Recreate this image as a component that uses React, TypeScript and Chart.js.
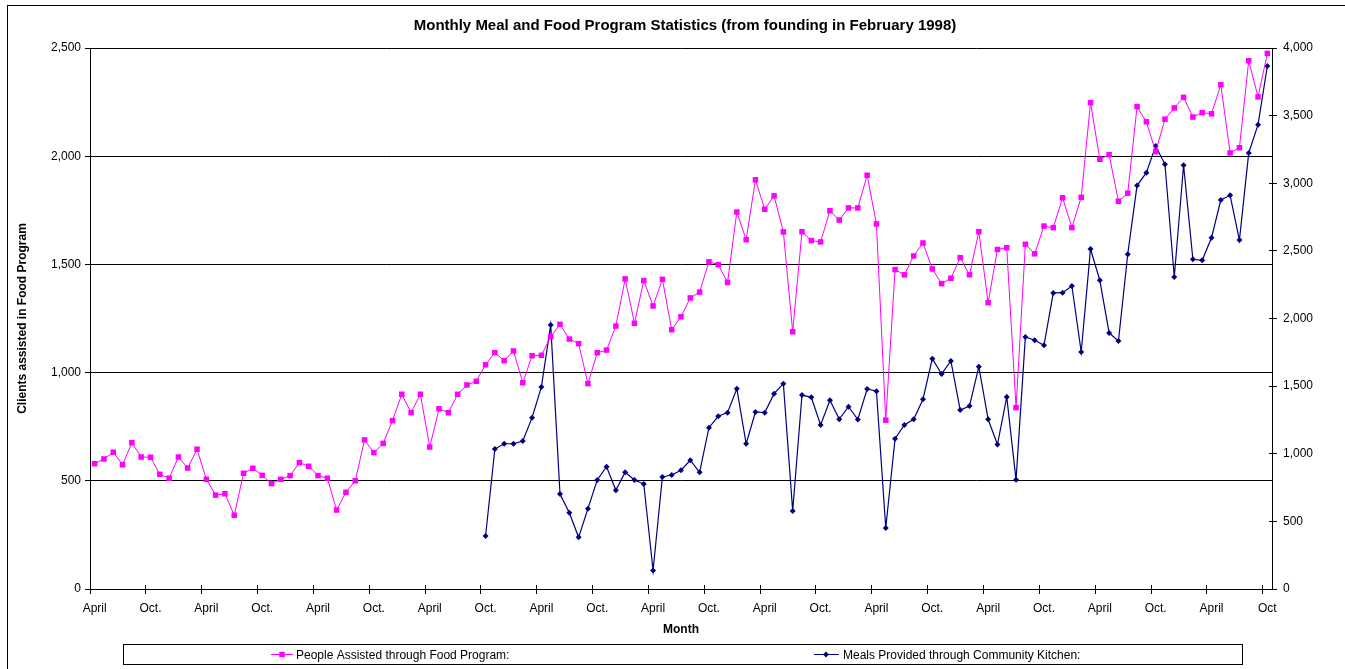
import React, { useEffect, useRef } from 'react';
import { Chart, registerables } from 'chart.js';

Chart.register(...registerables);

const TITLE = 'Monthly Meal and Food Program Statistics (from founding in February 1998)';
const LEFT_TITLE = 'Clients assisted in Food Program';
const RIGHT_TITLE = 'Meals Provided through Community Kitchen';
const X_TITLE = 'Month';
const PEOPLE_LABEL = 'People Assisted through Food Program:';
const MEALS_LABEL = 'Meals Provided through Community Kitchen:';

// Calendar months from April 1998 to October 2008 (127 months)
const MONTH_NAMES = ['Jan', 'Feb', 'Mar', 'Apr', 'May', 'Jun', 'Jul', 'Aug', 'Sep', 'Oct', 'Nov', 'Dec'];
const FIRST_YEAR = 1998;
const FIRST_MONTH = 3;
const MONTH_COUNT = 127;
const CATEGORIES: string[] = [];
for (let i = 0; i < MONTH_COUNT; i++) {
  const m = FIRST_MONTH + i;
  CATEGORIES.push(`${MONTH_NAMES[m % 12]} ${FIRST_YEAR + Math.floor(m / 12)}`);
}

const TICK_EVERY = 6;
const TICK_LABELS = [
  'April', 'Oct.', 'April', 'Oct.', 'April', 'Oct.', 'April', 'Oct.', 'April', 'Oct.', 'April',
  'Oct.', 'April', 'Oct.', 'April', 'Oct.', 'April', 'Oct.', 'April', 'Oct.', 'April', 'Oct',
];

const PEOPLE = [
  579, 601, 632, 574, 676, 610, 609, 530, 512, 610, 559, 646,
  507, 434, 440, 341, 535, 558, 525, 487, 507, 524, 584, 567,
  524, 512, 365, 447, 500, 689, 630, 673, 778, 900, 815, 900,
  656, 833, 815, 900, 943, 960, 1036, 1092, 1055, 1100, 953, 1078,
  1080, 1166, 1223, 1155, 1134, 949, 1092, 1104, 1215, 1433, 1228, 1425,
  1308, 1431, 1198, 1258, 1345, 1372, 1512, 1499, 1417, 1742, 1614, 1891,
  1755, 1817, 1650, 1189, 1651, 1610, 1604, 1748, 1705, 1761, 1761, 1912,
  1687, 780, 1476, 1452, 1539, 1599, 1479, 1411, 1436, 1531, 1452, 1651,
  1323, 1569, 1577, 838, 1593, 1549, 1677, 1670, 1808, 1670, 1810, 2247,
  1986, 2007, 1792, 1829, 2229, 2159, 2021, 2171, 2223, 2272, 2181, 2201,
  2196, 2330, 2015, 2039, 2441, 2274, 2475,
];

const MEALS_START_INDEX = 42;
const MEALS_VALUES = [
  392, 1035, 1074, 1074, 1094, 1267, 1494, 1952, 702, 564, 382, 594,
  806, 904, 730, 863, 806, 776, 137, 828, 843, 878, 952, 863,
  1193, 1277, 1304, 1481, 1074, 1309, 1304, 1444, 1518, 577, 1434, 1417,
  1213, 1396, 1256, 1348, 1253, 1479, 1462, 451, 1111, 1213, 1255, 1403,
  1703, 1590, 1686, 1323, 1353, 1644, 1255, 1068, 1420, 807, 1864, 1839,
  1802, 2189, 2191, 2240, 1752, 2514, 2282, 1893, 1834, 2475, 2983, 3078,
  3275, 3140, 2307, 3133, 2438, 2430, 2597, 2876, 2911, 2580, 3224, 3433,
  3867,
];
const MEALS: (number | null)[] = [
  ...new Array(MEALS_START_INDEX).fill(null),
  ...MEALS_VALUES,
];

const PINK = '#FF00FF';
const NAVY = '#000080';
const FONT = 'Arial, "Liberation Sans", sans-serif';

const CANVAS_W = 1370;
const CANVAS_H = 669;

const framePlugin = {
  id: 'frame',
  beforeDraw(chart: any) {
    const ctx = chart.ctx;
    ctx.save();
    ctx.fillStyle = '#fff';
    ctx.fillRect(0, 0, chart.width, chart.height);
    ctx.restore();
  },
  afterDraw(chart: any) {
    const { ctx, chartArea } = chart;
    ctx.save();
    ctx.strokeStyle = '#000';
    ctx.lineWidth = 1;
    // outer frame
    ctx.strokeRect(7.5, 5.5, 1500, 800);

    // inner half of the crossing category tick marks
    const w = (chartArea.right - chartArea.left) / CATEGORIES.length;
    ctx.beginPath();
    for (let i = 0; i < CATEGORIES.length; i += TICK_EVERY) {
      const x = Math.round(chartArea.left + i * w - 0.5) + 0.5;
      ctx.moveTo(x, chartArea.bottom - 4);
      ctx.lineTo(x, chartArea.bottom);
    }
    // inner half of right-axis ticks
    const y1 = chart.scales.y1;
    y1.ticks.forEach((t: any) => {
      const y = Math.round(y1.getPixelForValue(t.value) - 0.5) + 0.5;
      ctx.moveTo(chartArea.right - 3, y);
      ctx.lineTo(chartArea.right, y);
    });
    ctx.stroke();

    // legend box
    const lx = 123.5, ly = 644.5, lw = 1119, lh = 20;
    ctx.strokeRect(lx, ly, lw, lh);
    const cy = ly + lh / 2;
    ctx.font = `12px ${FONT}`;
    ctx.textBaseline = 'middle';
    ctx.textAlign = 'left';

    // pink entry
    ctx.strokeStyle = PINK;
    ctx.beginPath();
    ctx.moveTo(271, cy);
    ctx.lineTo(293, cy);
    ctx.stroke();
    ctx.fillStyle = PINK;
    ctx.fillRect(282 - 2.75, cy - 2.75, 5.5, 5.5);
    ctx.fillStyle = '#000';
    ctx.fillText(PEOPLE_LABEL, 296, cy + 1);

    // navy entry
    ctx.strokeStyle = NAVY;
    ctx.beginPath();
    ctx.moveTo(814, cy);
    ctx.lineTo(839, cy);
    ctx.stroke();
    ctx.fillStyle = NAVY;
    ctx.beginPath();
    ctx.moveTo(826 - 3, cy);
    ctx.lineTo(826, cy - 3);
    ctx.lineTo(826 + 3, cy);
    ctx.lineTo(826, cy + 3);
    ctx.closePath();
    ctx.fill();
    ctx.fillStyle = '#000';
    ctx.fillText(MEALS_LABEL, 843, cy + 1);
    ctx.restore();
  },
};

export default function App() {
  const ref = useRef<HTMLCanvasElement>(null);

  useEffect(() => {
    const canvas = ref.current;
    if (!canvas) return;
    const tickFont = { family: FONT, size: 12 };
    const titleFont = { family: FONT, size: 12, weight: 'bold' as const };

    const chart = new Chart(canvas, {
      type: 'line',
      data: {
        labels: CATEGORIES,
        datasets: [
          {
            label: PEOPLE_LABEL,
            data: PEOPLE,
            yAxisID: 'y',
            borderColor: PINK,
            backgroundColor: PINK,
            borderWidth: 1,
            pointStyle: 'rect',
            pointRadius: 3.9,
            pointHoverRadius: 3.9,
            pointBorderWidth: 0,
            pointBackgroundColor: PINK,
            tension: 0,
            fill: false,
          },
          {
            label: MEALS_LABEL,
            data: MEALS,
            yAxisID: 'y1',
            borderColor: NAVY,
            backgroundColor: NAVY,
            borderWidth: 1.2,
            pointStyle: 'rectRot',
            pointRadius: 3,
            pointHoverRadius: 3,
            pointBorderWidth: 0,
            pointBackgroundColor: NAVY,
            tension: 0,
            fill: false,
            spanGaps: false,
          },
        ],
      },
      options: {
        responsive: false,
        animation: false,
        devicePixelRatio: 1,
        layout: { padding: 0 },
        plugins: {
          legend: { display: false },
          tooltip: { enabled: false },
          title: {
            display: true,
            text: TITLE,
            color: '#000',
            font: { family: FONT, size: 15, weight: 'bold' },
            padding: { top: 17, bottom: 13 },
          },
        },
        scales: {
          x: {
            type: 'category',
            offset: true,
            grid: {
              offset: true,
              drawOnChartArea: false,
              tickLength: 5,
              color: (c: any) => (c.index % TICK_EVERY === 0 ? '#000' : 'rgba(0,0,0,0)'),
            },
            border: { display: true, color: '#000' },
            ticks: {
              autoSkip: false,
              maxRotation: 0,
              minRotation: 0,
              padding: 7,
              color: '#000',
              font: tickFont,
              callback: (_v: any, i: number) => (i % TICK_EVERY === 0 ? TICK_LABELS[i / TICK_EVERY] : ''),
            },
            title: {
              display: true,
              text: X_TITLE,
              color: '#000',
              font: titleFont,
              padding: { top: 0, bottom: 32 },
            },
            afterFit: (s: any) => {
              s.height = 80;
            },
          },
          y: {
            type: 'linear',
            position: 'left',
            min: 0,
            max: 2500,
            ticks: { stepSize: 500, padding: 4, color: '#000', font: tickFont },
            grid: { color: '#000', tickLength: 5, lineWidth: 1 },
            border: { display: true, color: '#000' },
            title: {
              display: true,
              text: LEFT_TITLE,
              color: '#000',
              font: titleFont,
              padding: { top: 15, bottom: 0 },
            },
            afterFit: (s: any) => {
              s.width = 90;
            },
          },
          y1: {
            type: 'linear',
            position: 'right',
            min: 0,
            max: 4000,
            ticks: { stepSize: 500, padding: 6, color: '#000', font: tickFont },
            grid: { drawOnChartArea: false, color: '#000', tickLength: 5 },
            border: { display: true, color: '#000' },
            title: {
              display: true,
              text: RIGHT_TITLE,
              color: '#000',
              font: titleFont,
              padding: { top: 11, bottom: 0 },
            },
            afterFit: (s: any) => {
              s.width = CANVAS_W - 1272;
            },
          },
        },
      },
      plugins: [framePlugin],
    });
    return () => chart.destroy();
  }, []);

  return (
    <div
      style={{
        position: 'fixed',
        left: 0,
        top: 0,
        width: 1345,
        height: 669,
        overflow: 'hidden',
        background: '#fff',
      }}
    >
      <canvas ref={ref} width={CANVAS_W} height={CANVAS_H} style={{ display: 'block' }} />
    </div>
  );
}
